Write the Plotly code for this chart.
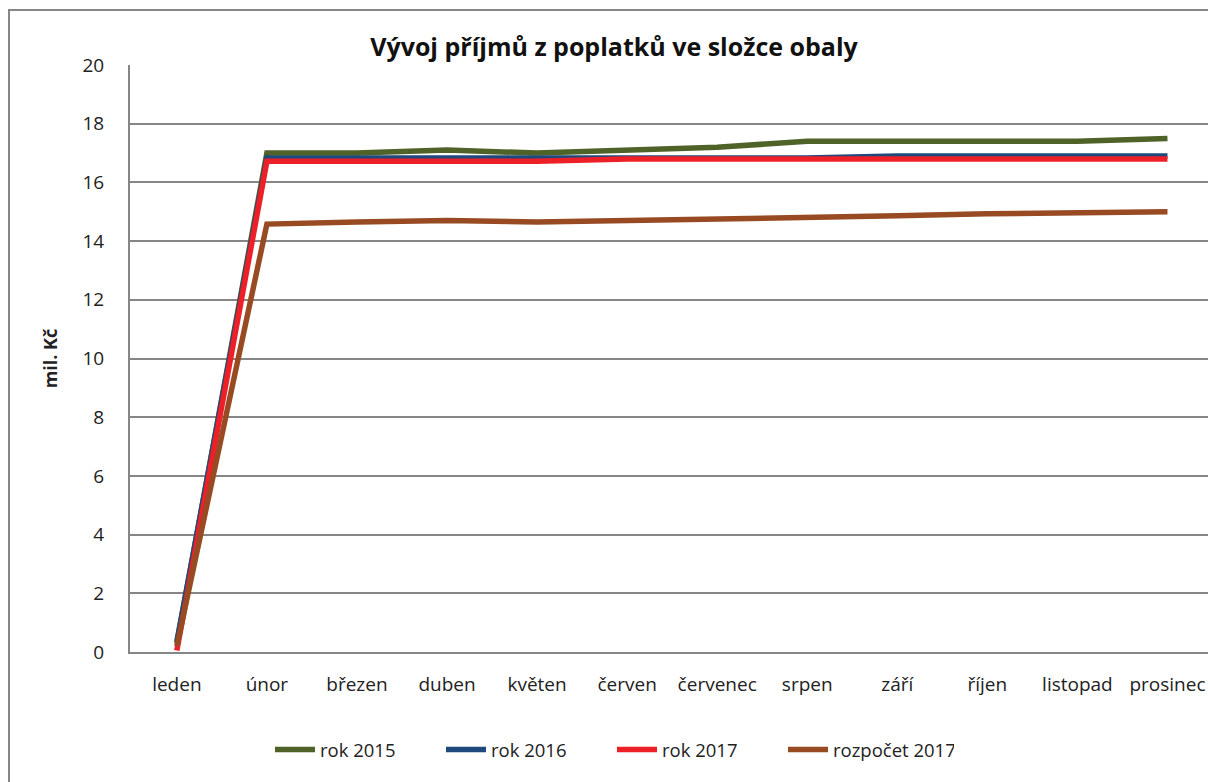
import plotly.graph_objects as go

months = ["leden", "únor", "březen", "duben", "květen", "červen", "červenec",
          "srpen", "září", "říjen", "listopad", "prosinec"]
rok_2015 = [0.3, 17.0, 17.0, 17.1, 17.0, 17.1, 17.2, 17.4, 17.4, 17.4, 17.4, 17.5]
rok_2016 = [0.35, 16.83, 16.83, 16.83, 16.83, 16.83, 16.83, 16.83, 16.9, 16.9, 16.9, 16.9]
rok_2017 = [0.05, 16.72, 16.72, 16.72, 16.72, 16.8, 16.8, 16.8, 16.8, 16.8, 16.8, 16.8]
rozpocet_2017 = [0.2, 14.58, 14.65, 14.7, 14.65, 14.7, 14.72, 14.77, 14.86, 14.93, 14.96, 15.0]

series = [
    ("rok 2015", rok_2015, "#4F6228"),
    ("rok 2016", rok_2016, "#1F497D"),
    ("rok 2017", rok_2017, "#EE2027"),
    ("rozpočet 2017", rozpocet_2017, "#984A22"),
]

fig = go.Figure()
for name, vals, col in series:
    fig.add_trace(go.Scatter(x=months, y=vals, name=name, mode="lines",
                             line=dict(color=col, width=5.5)))

font = "Open Sans, Noto Sans, sans-serif"
W, H = 1208, 782
fig.update_layout(
    width=W, height=H,
    margin=dict(l=130, r=0, t=65, b=130),
    paper_bgcolor="white", plot_bgcolor="white",
    font=dict(family=font, size=18, color="#222222"),
    title=dict(text="<b>Vývoj příjmů z poplatků ve složce obaly</b>",
               x=614 / W, xref="container", xanchor="center",
               y=1 - 47 / H, yref="container", yanchor="middle",
               font=dict(size=25, family=font, color="#111111")),
    showlegend=True,
    legend=dict(orientation="h", x=(270 - 130) / 1078, xanchor="left",
                y=(652 - 750) / 587, yanchor="middle",
                font=dict(size=18.5), itemwidth=40, entrywidth=116),
    xaxis=dict(range=[-0.52, 11.45], showgrid=False, showline=True,
               linecolor="#868686", linewidth=2, ticks="", tickfont=dict(size=19),
               ticklabelstandoff=14),
    yaxis=dict(range=[0, 20], dtick=2, showgrid=True, gridcolor="#868686", gridwidth=2,
               showline=True, linecolor="#868686", linewidth=2, zeroline=False,
               ticks="", tickfont=dict(size=19), ticklabelstandoff=20,
               title=dict(text="<b>mil. Kč</b>", font=dict(size=18), standoff=20)),
)

# outer chart-area border (partially cropped as in the reference)
px0 = (9 - 130) / 1078
py1 = (652 - 10) / 587
fig.add_shape(type="rect", xref="paper", yref="paper", x0=px0, x1=1.2, y0=-0.5, y1=py1,
              line=dict(color="#868686", width=2), fillcolor="rgba(0,0,0,0)", layer="below")

# remove the default page margin so the 1208x782 figure fills the window exactly
fig.write_html("out.html", config={"displayModeBar": False},
               post_script="document.body.style.margin='0';document.body.style.overflow='hidden';")
